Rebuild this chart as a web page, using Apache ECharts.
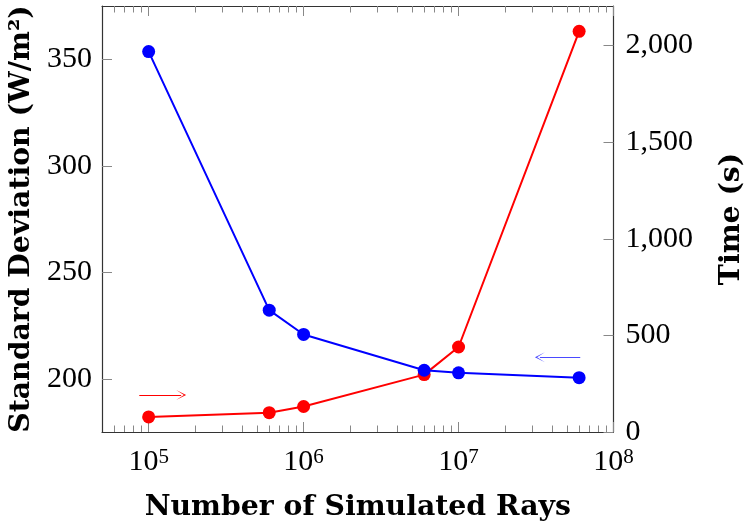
<!DOCTYPE html>
<html><head><meta charset="utf-8">
<script src="https://cdn.jsdelivr.net/npm/echarts@6/dist/echarts.min.js"></script>
<style>html,body{margin:0;padding:0;background:#fff}#c{width:748px;height:531px}</style>
</head><body><div id="c"></div>
<script>
// ---- data ----
const rays = [1e5, 6e5, 1e6, 6e6, 1e7, 6e7];
const stdDev = [353.6, 232.2, 220.8, 204.0, 202.8, 200.5];
const timeSec = [78, 100, 132, 297, 440, 2074];
// ---- ticks ----
const xMajorTicks = [1e5, 1e6, 1e7, 1e8];
const xMinorTicks = [6e4, 7e4, 8e4, 9e4,
  2e5, 3e5, 4e5, 5e5, 6e5, 7e5, 8e5, 9e5,
  2e6, 3e6, 4e6, 5e6, 6e6, 7e6, 8e6, 9e6,
  2e7, 3e7, 4e7, 5e7, 6e7, 7e7, 8e7, 9e7];
const leftTicks = [200, 250, 300, 350];
const rightTicks = [0, 500, 1000, 1500, 2000];
// ---- annotation arrows (data coords) ----
const redArrow = [[8.7e4, 192], [1.62e5, 192]];
const blueArrow = [[6.1e7, 210.1], [3.35e7, 210.1]];

const TICK_FONT = 'Liberation Serif';
const TITLE_FONT = 'DejaVu Serif';
const TITLE_SIZE = 28.3;
const axisLineColor = '#333';
const tickColor = '#888';
const arrowHead = 'path://M5,0 L10,10 L5,2.2 L0,10 Z';

function xAxisDef(pos, major, showLabel, showLine) {
  return {
    type: 'log', logBase: 10, min: 5e4, max: 1e8, position: pos,
    gridIndex: 0,
    axisLine: { show: showLine, onZero: false, lineStyle: { color: axisLineColor, width: 1.2 } },
    axisTick: { show: true, inside: true, length: major ? 10 : 6.5,
      customValues: major ? xMajorTicks : xMinorTicks,
      lineStyle: { color: tickColor, width: 1 } },
    axisLabel: showLabel ? {
      show: true, customValues: xMajorTicks, margin: 15,
      formatter: function (v) { return '{b|10}{s|' + Math.round(Math.log10(v)) + '}'; },
      rich: {
        b: { fontFamily: TICK_FONT, fontSize: 30, color: '#000', verticalAlign: 'bottom' },
        s: { fontFamily: TICK_FONT, fontSize: 21, color: '#000', verticalAlign: 'top' }
      }
    } : { show: false },
    splitLine: { show: false }, minorTick: { show: false },
    name: showLabel ? 'Number of Simulated Rays' : '',
    nameLocation: 'middle', nameGap: 62,
    nameTextStyle: { fontFamily: TITLE_FONT, fontWeight: 'bold', fontSize: TITLE_SIZE, color: '#000' }
  };
}

function fmtComma(v) { return String(v).replace(/\B(?=(\d{3})+(?!\d))/g, ','); }

const option = {
  animation: false,
  backgroundColor: '#fff',
  grid: { left: 102, right: 134.5, top: 6, bottom: 99, containLabel: false, outerBoundsMode: 'none' },
  xAxis: [
    xAxisDef('bottom', true, true, true),
    xAxisDef('bottom', false, false, false),
    xAxisDef('top', true, false, true),
    xAxisDef('top', false, false, false)
  ],
  yAxis: [
    {
      type: 'value', position: 'left', min: 175, max: 375,
      axisLine: { show: true, onZero: false, lineStyle: { color: axisLineColor, width: 1.2 } },
      axisTick: { show: true, inside: true, length: 10, customValues: leftTicks,
        lineStyle: { color: tickColor, width: 1 } },
      axisLabel: { customValues: leftTicks, margin: 10, fontFamily: TICK_FONT, fontSize: 30, color: '#000' },
      splitLine: { show: false },
      name: 'Standard Deviation (W/m²)', nameLocation: 'middle', nameGap: 49,
      nameTextStyle: { fontFamily: TITLE_FONT, fontWeight: 'bold', fontSize: TITLE_SIZE, color: '#000' }
    },
    {
      type: 'value', position: 'right', min: 0, max: 2205,
      axisLine: { show: true, onZero: false, lineStyle: { color: axisLineColor, width: 1.2 } },
      axisTick: { show: true, inside: true, length: 10, customValues: rightTicks,
        lineStyle: { color: tickColor, width: 1 } },
      axisLabel: { customValues: rightTicks, margin: 12, fontFamily: TICK_FONT, fontSize: 30, color: '#000',
        formatter: fmtComma },
      splitLine: { show: false },
      name: 'Time (s)', nameLocation: 'middle', nameGap: 104,
      nameTextStyle: { fontFamily: TITLE_FONT, fontWeight: 'bold', fontSize: TITLE_SIZE, color: '#000' }
    }
  ],
  series: [
    {
      name: 'Time', type: 'line', xAxisIndex: 0, yAxisIndex: 1,
      data: rays.map((x, i) => [x, timeSec[i]]),
      symbol: 'circle', symbolSize: 13,
      itemStyle: { color: '#ff0000' }, lineStyle: { color: '#ff0000', width: 2 },
      markLine: {
        silent: true, symbol: ['none', arrowHead], symbolSize: [10, 10],
        label: { show: false },
        lineStyle: { color: '#ff0000', width: 1.1, type: 'solid' },
        data: [[{ coord: redArrow[0] }, { coord: redArrow[1] }]]
      }
    },
    {
      name: 'Std', type: 'line', xAxisIndex: 0, yAxisIndex: 0,
      data: rays.map((x, i) => [x, stdDev[i]]),
      symbol: 'circle', symbolSize: 13,
      itemStyle: { color: '#0000ff' }, lineStyle: { color: '#0000ff', width: 2 },
      markLine: {
        silent: true, symbol: ['none', arrowHead], symbolSize: [10, 10],
        label: { show: false },
        lineStyle: { color: '#4a4aff', width: 1.2, type: 'solid' },
        data: [[{ coord: blueArrow[0] }, { coord: blueArrow[1] }]]
      }
    }
  ]
};
const chart = echarts.init(document.getElementById('c'), null, { renderer: 'canvas' });
chart.setOption(option);
</script></body></html>
